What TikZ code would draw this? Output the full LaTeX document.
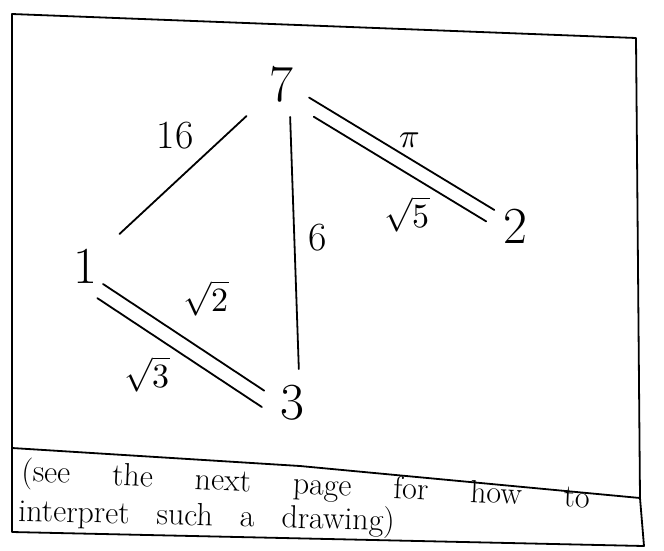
\documentclass[tikz,border=0pt]{standalone}
\usepackage{unicode-math}
\usetikzlibrary{calc}
\begin{document}
\begin{tikzpicture}[x=1pt,y=-1pt,
  stroke/.style={line width=1.8pt, line cap=round, line join=round},
  vertex/.style={font=\fontsize{52}{52}\selectfont, inner sep=0pt},
  wlabel/.style={font=\fontsize{34}{34}\selectfont, inner sep=1pt},
  numlabel/.style={font=\fontsize{40}{40}\selectfont, inner sep=1pt},
  edge/.style={stroke},
  note/.style={font=\fontsize{32}{34}\selectfont, anchor=base west, inner sep=0pt}]
\useasboundingbox (0,0) rectangle (664,550);
% frame
\draw[stroke] (12,14) -- (636,38) -- (640,498) -- (644,546) -- (12,532) -- cycle;
\draw[stroke] (12,448) -- (300,466) -- (640,498);
% vertices
\node[vertex] (n7) at (281,84) {7};
\node[vertex] (n1) at (85,266) {1};
\node[vertex] (n2) at (515,226) {2};
\node[vertex] (n3) at (292,403) {3};
% edges
\draw[edge, shorten <=47pt, shorten >=47pt] (n1.center) -- (n7.center);
\draw[edge, transform canvas={shift={(8pt,0pt)}}, shorten <=33pt, shorten >=34pt] (n7.center) -- (n3.center);
\draw[edge, transform canvas={shift={(1.55pt,2.56pt)}}, shorten <=31pt, shorten >=26pt] (n7.center) -- (n2.center);
\draw[edge, transform canvas={shift={(-5.7pt,-9.4pt)}}, shorten <=45pt, shorten >=27pt] (n7.center) -- (n2.center);
\draw[edge, transform canvas={shift={(-2.8pt,-4.2pt)}}, shorten <=25pt, shorten >=30pt] (n1.center) -- (n3.center);
\draw[edge, transform canvas={shift={(-11pt,-16.7pt)}}, shorten <=28pt, shorten >=23pt] (n1.center) -- (n3.center);
% weights
\node[numlabel] (w17) at (175,136) {16};
\node[numlabel] (w73) at (318,238) {6};
\node[wlabel] (w72a) at (410,140) {$\pi$};
\node[wlabel] (w72b) at (407,214) {$\sqrt{5}$};
\node[wlabel] (w13a) at (206,298) {$\sqrt{2}$};
\node[wlabel] (w13b) at (147,374) {$\sqrt{3}$};
% note
\node[note, rotate=-2.7] (t1) at (21,481) {\spaceskip=42pt (see the next page for how to};
\node[note, rotate=-1.5] (t2) at (18,521) {\spaceskip=27pt interpret such a drawing)};
\end{tikzpicture}
\end{document}
